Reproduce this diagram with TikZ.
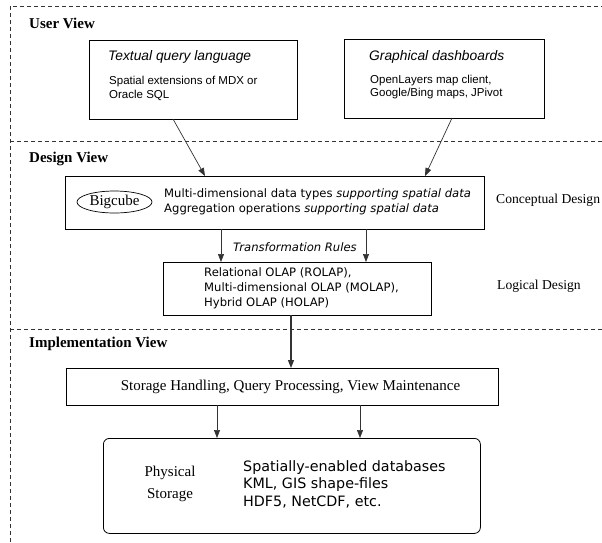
\documentclass[tikz,border=0pt]{standalone}
\usepackage{fontspec}
\setmainfont{Liberation Serif}
\newfontfamily\arialf{Liberation Sans}
\newfontfamily\dejaf{DejaVu Sans}
\usetikzlibrary{arrows.meta,shapes.geometric}
\begin{document}
\begin{tikzpicture}[x=1pt,y=-1pt,
  sep/.style={dash pattern=on 4pt off 3pt, line width=0.7pt, draw=black!80},
  box/.style={draw=black, line width=0.8pt, rectangle, anchor=north west, inner sep=0pt},
  arr/.style={draw=black!80, line width=0.7pt, -{Triangle[length=8pt,width=6pt]}},
  viewlabel/.style={anchor=west, font=\fontsize{15}{17}\selectfont\bfseries, inner sep=0pt},
  serif/.style={anchor=west, font=\fontsize{13.6}{16}\selectfont, inner sep=0pt},
  serifL/.style={anchor=center, font=\fontsize{15}{17}\selectfont, inner sep=0pt},
  ttl/.style={anchor=west, font=\arialf\itshape\fontsize{13.8}{16}\selectfont, inner sep=0pt},
  bodyA/.style={anchor=west, font=\arialf\fontsize{11.5}{13}\selectfont, inner sep=0pt},
  bodyD/.style={anchor=west, font=\dejaf\fontsize{11.6}{14}\selectfont, inner sep=0pt},
  bodyL/.style={anchor=west, font=\dejaf\fontsize{14.3}{17}\selectfont, inner sep=0pt}
]
\useasboundingbox (0,0) rectangle (602,542);
% separators
\draw[sep] (10,542) -- (10,6) -- (602,6);
\draw[sep] (10,141) -- (602,141);
\draw[sep] (10,329) -- (602,329);
\node[viewlabel] (uv) at (29,23) {User View};
\node[viewlabel] (dv) at (29,159) {Design View};
\node[viewlabel] (iv) at (29,344) {Implementation View};
% user view boxes
\node[box, minimum width=208pt, minimum height=79pt] (tq) at (89,40) {};
\node[ttl] (tqt) at (108,57) {Textual query language};
\node[bodyA] (tqb1) at (109,82) {Spatial extensions of MDX or};
\node[bodyA] (tqb2) at (109,95) {Oracle SQL};
\node[box, minimum width=200pt, minimum height=79pt] (gd) at (344,39) {};
\node[ttl] (gdt) at (369,57) {Graphical dashboards};
\node[bodyA] (gdb1) at (370,81) {OpenLayers map client,};
\node[bodyA] (gdb2) at (370,94) {Google/Bing maps, JPivot};
% conceptual
\node[box, minimum width=419pt, minimum height=53pt] (bc) at (65,176) {};
\node[draw, ellipse, line width=0.7pt, minimum width=75pt, minimum height=22pt, inner sep=0pt, font=\fontsize{15}{17}\selectfont] (big) at (114.5,202) {Bigcube};
\node[bodyD] (bct1) at (164,194) {Multi-dimensional data types \textit{supporting spatial data}};
\node[bodyD] (bct2) at (164,209) {Aggregation operations \textit{supporting spatial data}};
\node[serif] (cd) at (496,200) {Conceptual Design};
% logical
\node[box, minimum width=268pt, minimum height=53pt] (lg) at (163,262) {};
\node[bodyD] (lgt1) at (204,273) {Relational OLAP (ROLAP),};
\node[bodyD] (lgt2) at (204,288) {Multi-dimensional OLAP (MOLAP),};
\node[bodyD] (lgt3) at (204,303) {Hybrid OLAP (HOLAP)};
\node[serif] (ld) at (497,286) {Logical Design};
\node[bodyD, font=\dejaf\itshape\fontsize{11.6}{14}\selectfont] (tr) at (233,247) {Transformation Rules};
% implementation
\node[box, minimum width=432pt, minimum height=37pt] (st) at (66,368) {};
\node[serifL] (stt) at (290.5,387) {Storage Handling, Query Processing, View Maintenance};
\node[box, rounded corners=6pt, minimum width=377pt, minimum height=95pt] (ph) at (103,438) {};
\node[serifL] (pht1) at (170,473) {Physical};
\node[serifL] (pht2) at (170,495) {Storage};
\node[bodyL] (phl1) at (243,468) {Spatially-enabled databases};
\node[bodyL] (phl2) at (243,485) {KML, GIS shape-files};
\node[bodyL] (phl3) at (243,502) {HDF5, NetCDF, etc.};
% arrows
\draw[arr] (173,119) -- (205,176);
\draw[arr] (452,118) -- (425,176);
\draw[arr] (221,229) -- (221,262);
\draw[arr] (366,229) -- (366,262);
\draw[arr, line width=1.3pt] (291,315) -- (291,368);
\draw[arr] (217,405) -- (217,438);
\draw[arr] (360,405) -- (360,438);
\end{tikzpicture}
\end{document}
